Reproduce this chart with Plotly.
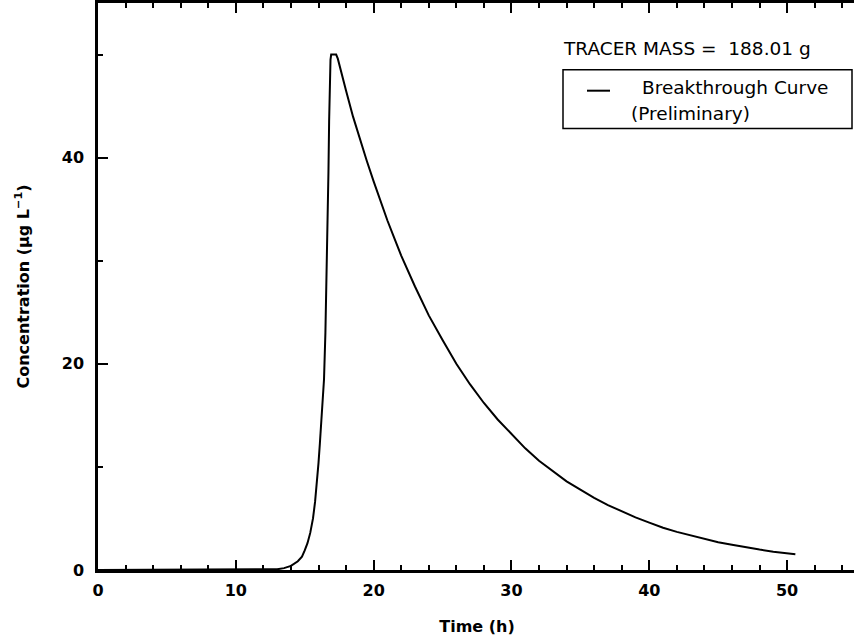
import plotly.graph_objects as go

time_h = [0, 12, 12.5, 13, 13.5, 14, 14.5, 14.8, 15.0, 15.2, 15.4, 15.6, 15.75, 15.9,
          16.0, 16.1, 16.2, 16.3, 16.4, 16.5, 16.6, 16.67, 16.72, 16.77, 16.82, 16.87,
          16.92, 17.28, 17.4, 17.6, 18, 18.5, 19, 19.5, 20, 20.5, 21, 21.5, 22, 23, 24,
          25, 26, 27, 28, 29, 30, 31, 32, 33, 34, 35, 36, 37, 38, 39, 40, 41, 42, 43,
          44, 45, 46, 47, 48, 49, 50, 50.6]
conc = [0, 0, 0.02, 0.07, 0.18, 0.4, 0.85, 1.3, 1.9, 2.6, 3.6, 5.0, 6.6, 8.6,
        10.4, 12.3, 14.2, 16.2, 18.5, 23, 29, 33.8, 38.5, 43.5, 47.5, 49.5,
        50, 50, 49.6, 48.5, 46.5, 44.0, 41.8, 39.7, 37.7, 35.7, 33.9, 32.2, 30.5, 27.5, 24.7,
        22.3, 20.0, 18.0, 16.2, 14.6, 13.2, 11.8, 10.6, 9.6, 8.6, 7.8, 7.0, 6.3, 5.7, 5.1, 4.6, 4.1, 3.7, 3.35,
        3.0, 2.7, 2.45, 2.2, 1.98, 1.78, 1.6, 1.52]

x_ticks = [0, 10, 20, 30, 40, 50]
y_ticks = [0, 20, 40]

mass_label = "TRACER MASS =&nbsp;&nbsp;188.01 g"
legend_line1 = "Breakthrough Curve"
legend_line2 = "(Preliminary)"

fig = go.Figure()
fig.add_trace(go.Scatter(x=time_h, y=conc, mode="lines",
                         line=dict(color="black", width=2), showlegend=False))

tickfont = dict(family="DejaVu Sans", size=16, color="black")
fig.update_layout(
    width=856, height=643,
    margin=dict(l=98, r=0, t=1, b=73),
    plot_bgcolor="white", paper_bgcolor="white",
    xaxis=dict(range=[0, 55], tickvals=x_ticks, ticktext=[f"<b>{v}</b>" for v in x_ticks],
               ticks="inside", ticklen=10, tickwidth=2, tickcolor="black",
               showline=True, linewidth=2.5, linecolor="black", mirror="ticks",
               showgrid=False, zeroline=False, tickfont=tickfont,
               ticklabelstandoff=4,
               minor=dict(dtick=2, ticks="inside", ticklen=5, tickwidth=2, tickcolor="black", showgrid=False),
               title=dict(text="<b>Time (h)</b>", font=dict(family="DejaVu Sans", size=16, color="black"), standoff=22)),
    yaxis=dict(range=[0, 55], tickvals=y_ticks, ticktext=[f"<b>{v}</b>" for v in y_ticks],
               ticks="inside", ticklen=10, tickwidth=2, tickcolor="black",
               showline=True, linewidth=2.5, linecolor="black", mirror=False,
               showgrid=False, zeroline=False, tickfont=tickfont,
               ticklabelstandoff=8,
               minor=dict(dtick=10, ticks="inside", ticklen=5, tickwidth=2, tickcolor="black", showgrid=False),
               title=dict(text="<b>Concentration (μg L<sup>−1</sup>)</b>", font=dict(family="DejaVu Sans", size=16, color="black"), standoff=29)),
)

# legend box
fig.add_shape(type="rect", xref="paper", yref="paper",
              x0=(563 - 98) / 758, x1=(852 - 98) / 758,
              y0=(643 - 73 - 127) / 569, y1=(643 - 73 - 68) / 569,
              line=dict(color="black", width=1.5), fillcolor="rgba(0,0,0,0)")
fig.add_shape(type="line", xref="paper", yref="paper",
              x0=(587 - 98) / 758, x1=(610 - 98) / 758,
              y0=(570 - 89) / 569, y1=(570 - 89) / 569,
              line=dict(color="black", width=2))

annot_font = dict(family="DejaVu Sans", size=18.5, color="black")
fig.add_annotation(xref="paper", yref="paper", x=(561 - 98) / 758, y=(570 - 47) / 569,
                   text=mass_label, showarrow=False, xanchor="left", yanchor="middle", font=annot_font)
fig.add_annotation(xref="paper", yref="paper", x=(640 - 98) / 758, y=(570 - 86) / 569,
                   text=legend_line1, showarrow=False, xanchor="left", yanchor="middle", font=annot_font)
fig.add_annotation(xref="paper", yref="paper", x=(629 - 98) / 758, y=(570 - 112) / 569,
                   text=legend_line2, showarrow=False, xanchor="left", yanchor="middle", font=annot_font)

fig.write_html("out.html")
